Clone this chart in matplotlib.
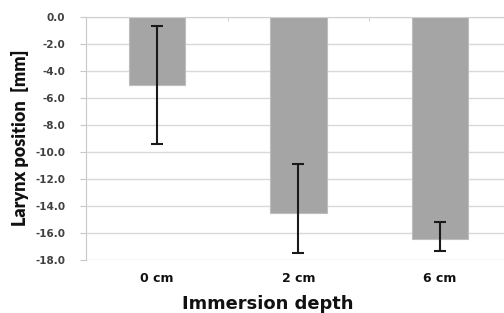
import numpy as np
import matplotlib
matplotlib.use("Agg")
import matplotlib.pyplot as plt
from matplotlib.ticker import FixedLocator

# data
depths = ["0 cm", "2 cm", "6 cm"]
larynx_pos = [-5.05, -14.5, -16.45]
err_low = [4.37, 2.95, 0.87]    # distance below bar end (more negative)
err_high = [4.37, 3.58, 1.29]   # distance above bar end (toward 0)
yticks = np.arange(-18, 0.1, 2)

fig = plt.figure(figsize=(5.04, 3.13), dpi=100)
ax = fig.add_axes([0.1711, 0.1693, 0.8423, 0.7773])

x = np.arange(len(depths))
ax.bar(x, larynx_pos, width=0.4, color="#a5a5a5", edgecolor="#bdbdbd",
       linewidth=0.8, zorder=2)
ax.errorbar(x, larynx_pos, yerr=[err_low, err_high], fmt="none",
            ecolor="#1a1a1a", elinewidth=1.5, capsize=4.3, capthick=1.5,
            zorder=3)

ax.set_xlim(-0.5, 2.5)
ax.set_ylim(-18, 0)
ax.set_yticks(yticks)
ax.set_yticklabels([f"{v:.1f}" for v in yticks],
                   fontfamily="DejaVu Sans", fontweight="bold", fontsize=7.5,
                   color="#404040")
ax.set_xticks(x)
ax.set_xticklabels(depths, fontfamily="DejaVu Sans", fontweight="bold",
                   fontsize=9, color="#111111")
ax.xaxis.set_minor_locator(FixedLocator([0.5, 1.5]))
ax.tick_params(axis="x", which="major", length=0, pad=8.5)
ax.tick_params(axis="x", which="minor", top=True, bottom=False,
               direction="in", length=3, color="#c8c8c8")
ax.tick_params(axis="y", length=4, color="#c8c8c8", pad=11)

ax.grid(axis="y", color="#d9d9d9", linewidth=1.0, zorder=0)
ax.set_axisbelow(True)
for side in ["right", "bottom"]:
    ax.spines[side].set_visible(False)
ax.spines["left"].set_color("#c8c8c8")
ax.spines["top"].set_color("#d0d0d0")

ax.set_ylabel("Larynx position  [mm]",
              fontfamily=["Liberation Sans Narrow", "DejaVu Sans Condensed", "Lato"],
              fontweight="heavy", fontsize=13, color="#111111", va="center")
ax.yaxis.set_label_coords(-0.155, 0.503)
ax.set_xlabel("Immersion depth", fontfamily="DejaVu Sans", fontweight="bold",
              fontsize=12.9, color="#111111", va="top")
ax.xaxis.set_label_coords(0.428, -0.145)

fig.savefig("out.png", dpi=100)
